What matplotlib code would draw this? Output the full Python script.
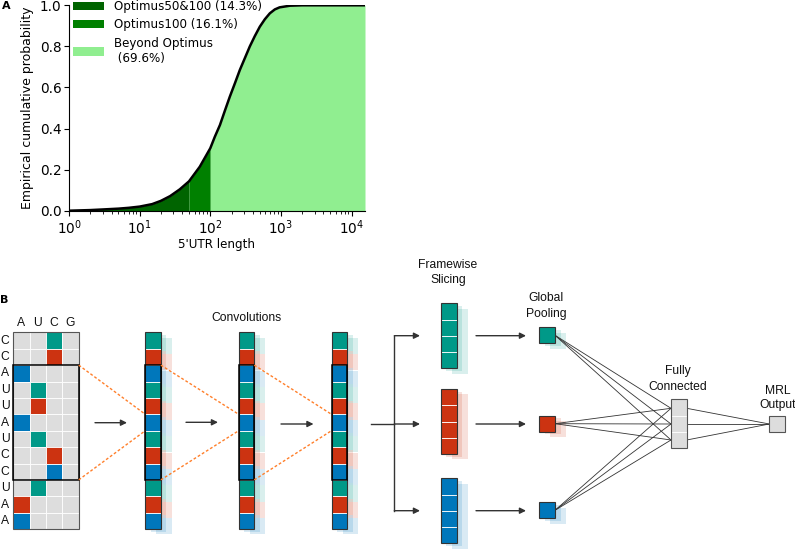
import numpy as np
import matplotlib.pyplot as plt
from matplotlib.patches import Rectangle

# ---- panel A data ----
utr_len = np.array([1, 2, 3, 5, 7, 10, 15, 20, 27, 37,
                    50, 71, 100, 116, 137, 161, 189, 223, 262, 308,
                    363, 427, 503, 592, 697, 820, 958, 1340, 2000, 3000,
                    5000, 10000, 15500])
ecdf = np.array([0.0, 0.003, 0.006, 0.010, 0.014, 0.020, 0.032, 0.048, 0.071, 0.104,
                 0.143, 0.214, 0.304, 0.36, 0.417, 0.487, 0.555, 0.62, 0.685, 0.742,
                 0.80, 0.85, 0.896, 0.932, 0.961, 0.98, 0.99, 0.998, 1.0, 1.0,
                 1.0, 1.0, 1.0])
region_labels = ['Optimus50&100 (14.3%)', 'Optimus100 (16.1%)', 'Beyond Optimus\n (69.6%)']
region_colors = ['darkgreen', 'green', 'lightgreen']

# ---- panel B content ----
sequence = 'CCAUUAUCCUAA'
nucleotides = 'AUCG'
teal, red, blue = '#009988', '#CC3311', '#0077BB'
cycle = [teal, red, blue]
grey = '#dddddd'

W, H = 795, 549
fig = plt.figure(figsize=(W / 100, H / 100), dpi=100)

# diagram axes in pixel coordinates
axb = fig.add_axes([0, 0, 1, 1])
axb.set_xlim(0, W)
axb.set_ylim(H, 0)
axb.axis('off')

ROW = 16.4
DIAG_FONT = dict(family='Liberation Sans', fontsize=8.7, color='#111111')


def column(x, y, colors, w=15.5, h=ROW, shadow=True):
    n = len(colors)
    if shadow:
        for dx, dy in [(11, 5.4), (5.5, 2.7)]:
            for i, c in enumerate(colors):
                axb.add_patch(Rectangle((x + dx, y + dy + i * h), w, h, fc=c,
                                        ec='none', alpha=0.15, zorder=1))
    for i, c in enumerate(colors):
        axb.add_patch(Rectangle((x, y + i * h), w, h, fc=c, ec='white', lw=0.6, zorder=2))
    axb.add_patch(Rectangle((x, y), w, n * h, fill=False, ec='#333333', lw=0.8, zorder=3))


def arrow(x0, y0, x1, y1):
    axb.annotate('', xy=(x1, y1), xytext=(x0, y0),
                 arrowprops=dict(arrowstyle='-|>', color='#333333', lw=1.0,
                                 mutation_scale=9, shrinkA=0, shrinkB=0))


def dashed(x0, y0, x1, y1):
    axb.plot([x0, x1], [y0, y1], color='#ff7f2a', lw=1.0, ls=(0, (2, 1.5)), zorder=4)


# one-hot grid
gx, gy, cw = 13.3, 332.3, 16.35
for r, nt in enumerate(sequence):
    for c, col_nt in enumerate(nucleotides):
        fc = cycle[r % 3] if nt == col_nt else grey
        axb.add_patch(Rectangle((gx + c * cw, gy + r * ROW), cw, ROW, fc=fc,
                                ec='white', lw=0.6, zorder=2))
    axb.text(5, gy + (r + 0.5) * ROW, nt, ha='center', va='center', **DIAG_FONT)
for c, col_nt in enumerate(nucleotides):
    axb.text(gx + (c + 0.5) * cw, 323, col_nt, ha='center', va='center', **DIAG_FONT)
axb.add_patch(Rectangle((gx, gy), 4 * cw, 12 * ROW, fill=False, ec='#555555', lw=0.8, zorder=3))
axb.add_patch(Rectangle((gx, gy + 2 * ROW), 4 * cw, 7 * ROW, fill=False, ec='black', lw=1.1, zorder=4))

# convolution columns
col_colors = [cycle[i % 3] for i in range(12)]
conv_x = [145.3, 238.7, 331.5]
for x in conv_x:
    column(x, gy, col_colors)
    axb.add_patch(Rectangle((x, gy + 2 * ROW), 15.5, 7 * ROW, fill=False, ec='black',
                            lw=1.1, zorder=4))
for xr, xl in zip([gx + 4 * cw, conv_x[0] + 15.5, conv_x[1] + 15.5], conv_x):
    dashed(xr, gy + 2 * ROW, xl, gy + 5 * ROW)
    dashed(xr, gy + 9 * ROW, xl, gy + 6 * ROW)

arrow(95, 422.7, 127, 422.7)
arrow(186, 422.3, 218, 422.3)
arrow(281, 424, 313.5, 424)
axb.text(246, 318, 'Convolutions', ha='center', va='center', **DIAG_FONT)

# branch to framewise slices
branch_y = [335.7, 424, 510.7]
axb.plot([370.7, 394.3], [424, 424], color='#333333', lw=1.0)
axb.plot([394.3, 394.3], [branch_y[0], branch_y[-1]], color='#333333', lw=1.0)
for yb in branch_y:
    arrow(394.3, yb, 420, yb)

slice_top = [303.3, 389, 478.3]
for top, c in zip(slice_top, cycle):
    column(440.7, top, [c] * 4, w=16, h=16.25)
axb.text(448, 265, 'Framewise', ha='center', va='center', **DIAG_FONT)
axb.text(448, 280, 'Slicing', ha='center', va='center', **DIAG_FONT)

# global pooling
for yb in branch_y:
    arrow(476, yb, 526, yb)
pool_y = [335.3, 423.7, 510.3]
fc_y = [408.3, 424, 440]
for yc, c in zip(pool_y, cycle):
    column(539, yc - 8, [c], w=16, h=16)
    for yf in fc_y:
        axb.plot([555, 671], [yc, yf], color='#333333', lw=0.6, zorder=1)
axb.text(546, 298, 'Global', ha='center', va='center', **DIAG_FONT)
axb.text(546, 314, 'Pooling', ha='center', va='center', **DIAG_FONT)

# fully connected + output
for i in range(3):
    axb.add_patch(Rectangle((671, 399.3 + i * 16.35), 15.7, 16.35, fc=grey, ec='white',
                            lw=0.6, zorder=2))
axb.add_patch(Rectangle((671, 399.3), 15.7, 49, fill=False, ec='#555555', lw=0.8, zorder=3))
for yf in fc_y:
    axb.plot([686.7, 769.3], [yf, 424], color='#333333', lw=0.6, zorder=1)
axb.add_patch(Rectangle((769.3, 416), 16, 16, fc=grey, ec='#555555', lw=0.8, zorder=3))
axb.text(678, 371, 'Fully', ha='center', va='center', **DIAG_FONT)
axb.text(678, 387, 'Connected', ha='center', va='center', **DIAG_FONT)
axb.text(778, 391, 'MRL', ha='center', va='center', **DIAG_FONT)
axb.text(778, 405, 'Output', ha='center', va='center', **DIAG_FONT)

axb.text(0, 300, 'B', ha='left', va='center', fontsize=8, fontweight='bold',
         family='DejaVu Sans')

# ---- panel A ----
ax = fig.add_axes([69 / W, 1 - 210.7 / H, (365 - 69) / W, (210.7 - 5.3) / H])
masks = [utr_len <= 50, (utr_len >= 50) & (utr_len <= 100), utr_len >= 100]
for m, c, lab in zip(masks, region_colors, region_labels):
    ax.fill_between(utr_len, 0, ecdf, where=m, color=c, lw=0, label=lab)
ax.plot(utr_len, ecdf, color='black', lw=1.8, solid_capstyle='round')
ax.set_xscale('log')
ax.set_xlim(1, 15500)
ax.set_ylim(0, 1)
ax.set_yticks(np.arange(0, 1.01, 0.2))
ax.spines['top'].set_visible(False)
ax.spines['right'].set_visible(False)
ax.tick_params(labelsize=9.8, pad=2)
ax.set_xlabel("5'UTR length", fontsize=8.6, labelpad=1)
ax.set_ylabel('Empirical cumulative probability', fontsize=9.0, labelpad=4)
ax.legend(loc='upper left', bbox_to_anchor=(73 / W, 1.0), bbox_transform=fig.transFigure,
          frameon=False, fontsize=8.6, borderpad=0.0, borderaxespad=0, handlelength=2.6,
          labelspacing=0.45)
fig.text(2 / W, 1 - 6 / H, 'A', ha='left', va='center', fontsize=8, fontweight='bold')

fig.savefig('out.png', dpi=100)
